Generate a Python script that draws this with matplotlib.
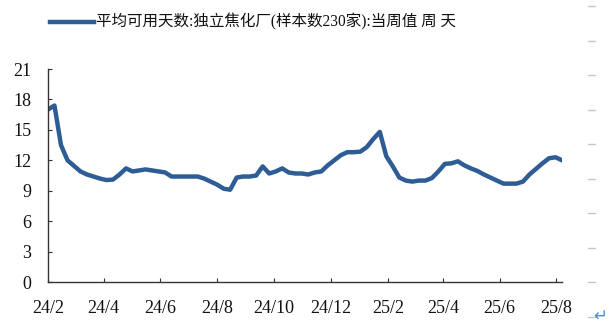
import datetime as dt

import matplotlib
matplotlib.use("Agg")
import matplotlib.pyplot as plt
import matplotlib.dates as mdates
from matplotlib.ticker import FuncFormatter
from matplotlib.lines import Line2D

# weekly series
start = dt.date(2024, 2, 1)
days_avail = [17.0, 17.4, 13.5, 12.0, 11.45, 10.9, 10.6, 10.4, 10.2, 10.05,
              10.1, 10.6, 11.2, 10.9, 11.0, 11.1, 11.0, 10.9, 10.8, 10.4,
              10.4, 10.4, 10.4, 10.4, 10.2, 9.9, 9.6, 9.2, 9.1, 10.3,
              10.4, 10.4, 10.5, 11.4, 10.7, 10.9, 11.2, 10.8, 10.7, 10.7,
              10.6, 10.8, 10.9, 11.5, 12.0, 12.5, 12.8, 12.8, 12.85, 13.3,
              14.1, 14.8, 12.4, 11.4, 10.3, 10.0, 9.9, 10.0, 10.0, 10.25,
              10.9, 11.65, 11.7, 11.9, 11.5, 11.2, 10.95, 10.6, 10.3, 10.0,
              9.7, 9.7, 9.7, 9.9, 10.6, 11.15, 11.7, 12.2, 12.3, 12.0]
dates = [start + dt.timedelta(weeks=i) for i in range(len(days_avail))]

yticks = [0, 3, 6, 9, 12, 15, 18, 21]
label = "平均可用天数:独立焦化厂(样本数230家):当周值 周 天"

line_color = "#2e5d96"
serif = ["Liberation Serif", "Noto Sans CJK SC"]

fig = plt.figure(figsize=(6.15, 3.24), dpi=100)
ax = fig.add_axes([0.078, 0.1296, 0.8358, 0.6574])

ax.plot(dates, days_avail, color=line_color, lw=3.2, solid_joinstyle="round")

ax.set_ylim(0, 21)
ax.set_yticks(yticks)
ax.set_xlim(dates[0], dates[-1])
ax.xaxis.set_major_locator(mdates.MonthLocator(bymonth=[2, 4, 6, 8, 10, 12]))
ax.xaxis.set_major_formatter(FuncFormatter(
    lambda v, p: "%d/%d" % (mdates.num2date(v).year % 100, mdates.num2date(v).month)))

for s in ("top", "right"):
    ax.spines[s].set_visible(False)
for s in ("left", "bottom"):
    ax.spines[s].set_color("#333333")
    ax.spines[s].set_linewidth(1.0)
ax.tick_params(axis="both", direction="in", length=3, width=0.8, color="#333333",
               labelsize=13, labelcolor="#111111")
ax.tick_params(axis="y", pad=12)
ax.tick_params(axis="x", pad=13)
for t in ax.get_xticklabels() + ax.get_yticklabels():
    t.set_family(serif)

# legend across the top
fig.add_artist(Line2D([50 / 615, 94 / 615], [0.932, 0.932], color=line_color, lw=3.2))
fig.text(96 / 615, 0.932, label, family=serif, fontsize=11.2, va="center", ha="left",
         color="#111111")

# faint frame dashes down the right edge and the paragraph mark
for i in range(10):
    y = 1 - (6 + 34.5 * i) / 324
    fig.add_artist(Line2D([588 / 615, 595 / 615], [y, y], color="#c8c8c8", lw=1.0))
fig.text(600 / 615, 1 - 316 / 324, "↵", color="#4a90d9", fontsize=12,
         ha="center", va="center", family="DejaVu Sans")

fig.savefig("out.png", dpi=100)
